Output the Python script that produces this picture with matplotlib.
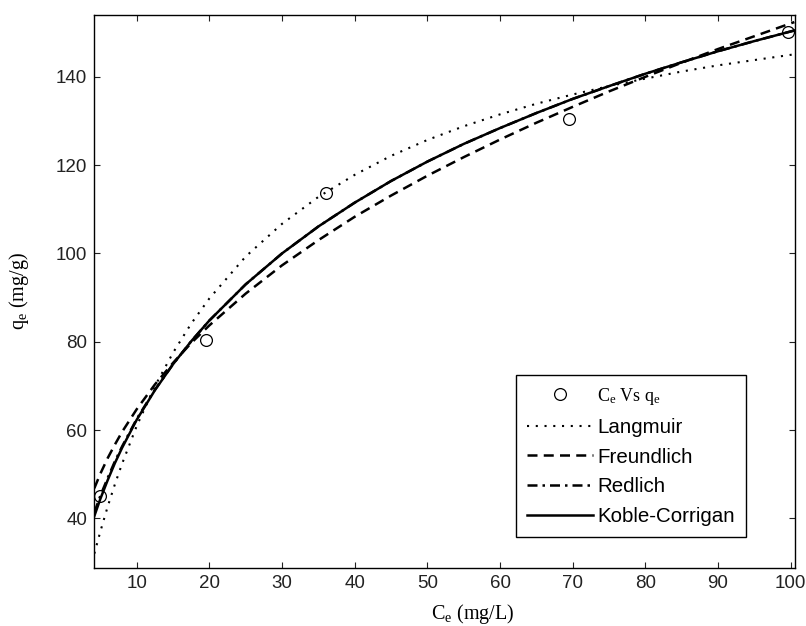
import matplotlib
matplotlib.use("Agg")
import matplotlib.pyplot as plt

plt.rcParams['font.family'] = ['Liberation Sans', 'DejaVu Sans']
plt.rcParams['mathtext.fontset'] = 'custom'
plt.rcParams['mathtext.rm'] = 'Liberation Serif'
plt.rcParams['mathtext.it'] = 'Liberation Serif:italic'

# experimental points
ce_exp = [4.95, 19.5, 36.1, 69.5, 99.6]
qe_exp = [45.0, 80.4, 113.7, 130.4, 150.2]

# model curves
ce_fit = [4.17, 5, 6, 7, 8, 10, 12.5, 15, 17.5, 20, 25, 30, 35, 40, 45, 50,
          55, 60, 65, 70, 75, 80, 85, 90, 95, 100.5]
q_langmuir = [32.0, 37.0, 42.6, 47.7, 52.4, 60.9, 69.9, 77.5, 84.1, 89.8, 99.3,
              106.7, 112.8, 117.8, 122.1, 125.7, 128.8, 131.5, 133.9, 136.0,
              137.9, 139.6, 141.2, 142.6, 143.8, 145.1]
q_freundlich = [46.8, 50.1, 53.6, 56.7, 59.6, 64.7, 70.3, 75.2, 79.7, 83.7, 90.9,
                97.3, 103.0, 108.3, 113.1, 117.6, 121.8, 125.8, 129.6, 133.2,
                136.7, 140.0, 143.2, 146.3, 149.2, 152.4]
q_redlich = [41.3, 45.1, 49.1, 52.9, 56.3, 62.5, 69.1, 74.9, 80.1, 84.8, 93.0,
             100.0, 106.1, 111.5, 116.4, 120.8, 124.8, 128.4, 131.8, 135.0,
             137.9, 140.7, 143.3, 145.8, 148.1, 150.5]
q_koble = [40.5, 44.4, 48.6, 52.5, 56.0, 62.3, 69.0, 74.9, 80.1, 84.8, 93.0,
           100.0, 106.1, 111.5, 116.4, 120.8, 124.8, 128.4, 131.8, 135.0,
           137.9, 140.7, 143.3, 145.8, 148.1, 150.5]

xticks = [10, 20, 30, 40, 50, 60, 70, 80, 90, 100]
yticks = [40, 60, 80, 100, 120, 140]

fig = plt.figure(figsize=(8.06, 6.26), dpi=100)
ax = fig.add_axes([0.117, 0.093, 0.869, 0.883])

ax.plot(ce_exp, qe_exp, 'o', mfc='none', mec='black', ms=8.5, mew=0.9,
        label=r'C$_\mathrm{e}$ Vs q$_\mathrm{e}$')
ax.plot(ce_fit, q_langmuir, color='black', lw=1.5, linestyle=(0, (1, 3.2)),
        label='Langmuir')
ax.plot(ce_fit, q_freundlich, color='black', lw=1.8, linestyle=(0, (4, 2.5)),
        label='Freundlich')
ax.plot(ce_fit, q_redlich, color='black', lw=1.8, linestyle=(0, (4, 2, 1, 2)),
        label='Redlich')
ax.plot(ce_fit, q_koble, color='black', lw=1.8, linestyle='-',
        label='Koble-Corrigan')

ax.set_xlim(4.17, 100.55)
ax.set_ylim(28.8, 154.0)
ax.set_xticks(xticks)
ax.set_yticks(yticks)
ax.tick_params(direction='in', top=True, right=True, length=4, width=0.8,
               labelsize=13.5, colors='#222222', pad=5)
for s in ax.spines.values():
    s.set_linewidth(1.0)

ax.set_xlabel(r'C$_\mathrm{e}$ (mg/L)', fontsize=14.5, family='Liberation Serif')
ax.xaxis.set_label_coords(0.54, -0.062)
ax.set_ylabel(r'q$_\mathrm{e}$ (mg/g)', fontsize=14.5, family='Liberation Serif')
ax.yaxis.set_label_coords(-0.09, 0.5)

leg = ax.legend(loc='upper left', bbox_to_anchor=(516 / 806, 1 - 375 / 626),
                bbox_transform=fig.transFigure, fontsize=14.8, handlelength=3.2,
                fancybox=False, edgecolor='black', framealpha=1,
                borderpad=0.55, labelspacing=0.52, handletextpad=0.2,
                borderaxespad=0)
leg.get_frame().set_linewidth(1.0)
leg.get_texts()[0].set_family('Liberation Serif')
leg.get_texts()[0].set_fontsize(13)

fig.savefig('out.png', dpi=100)
